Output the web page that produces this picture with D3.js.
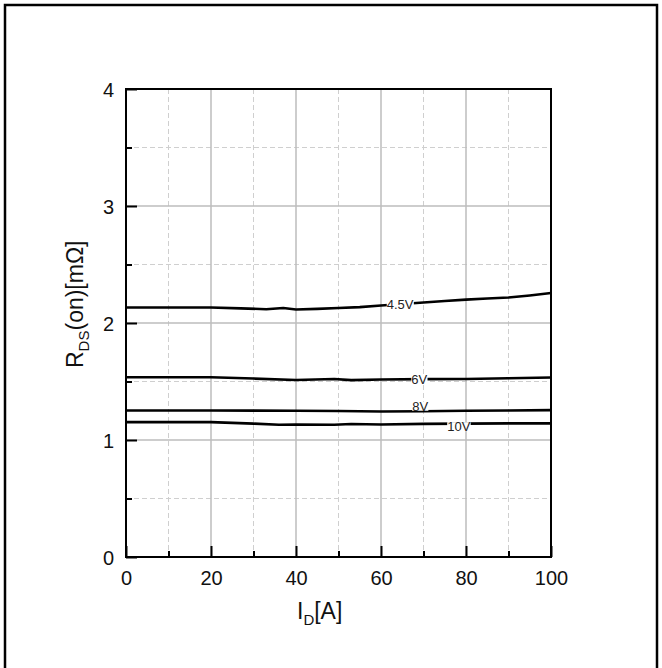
<!DOCTYPE html>
<html>
<head>
<meta charset="utf-8">
<script src="https://cdn.jsdelivr.net/npm/d3@7"></script>
<style>
  html, body { margin: 0; padding: 0; background: #fff; }
  svg { display: block; }
  text { font-family: Arial, "Liberation Sans", sans-serif; fill: #111; }
</style>
</head>
<body>
<script>
// R_DS(on) versus drain current for four gate voltages
const gateLabels = ["4.5V", "6V", "8V", "10V"];
const current45 = [0, 10, 20, 27, 33, 37, 40, 45, 50, 55, 60, 65, 70, 75, 80, 85, 90, 95, 100];
const rds45     = [2.133, 2.133, 2.133, 2.125, 2.118, 2.128, 2.116, 2.121, 2.128, 2.136, 2.15, 2.162, 2.175, 2.188, 2.2, 2.21, 2.218, 2.235, 2.256];
const current6  = [0, 20, 30, 40, 49, 53, 60, 70, 80, 90, 100];
const rds6      = [1.536, 1.536, 1.525, 1.513, 1.521, 1.512, 1.517, 1.52, 1.522, 1.528, 1.534];
const current8  = [0, 20, 40, 50, 60, 70, 80, 90, 100];
const rds8      = [1.252, 1.252, 1.25, 1.248, 1.243, 1.246, 1.25, 1.252, 1.255];
const current10 = [0, 20, 30, 36, 40, 49, 53, 60, 70, 80, 90, 100];
const rds10     = [1.153, 1.153, 1.14, 1.13, 1.133, 1.13, 1.137, 1.133, 1.138, 1.14, 1.142, 1.142];
// where each curve carries its label (x in A)
const labelAt = [64.5, 69, 69.2, 78.3];

const xTicks = [0, 20, 40, 60, 80, 100];
const xMinor = [10, 30, 50, 70, 90];
const yTicks = [0, 1, 2, 3, 4];
const yMinor = [0.5, 1.5, 2.5, 3.5];

const W = 662, H = 668;
const L = 126, R = 551, T = 89, B = 557;

const svg = d3.select("body").append("svg").attr("width", W).attr("height", H);

// outer frame
svg.append("rect").attr("x", 5).attr("y", 5).attr("width", 652).attr("height", 680)
  .attr("fill", "none").attr("stroke", "#000").attr("stroke-width", 2.5);

const x = d3.scaleLinear().domain([0, 100]).range([L, R]);
const y = d3.scaleLinear().domain([0, 4]).range([B, T]);

// grid
const grid = svg.append("g");
grid.selectAll(".vmin").data(xMinor).join("line")
  .attr("x1", d => x(d)).attr("x2", d => x(d)).attr("y1", T).attr("y2", B)
  .attr("stroke", "#cfcfcf").attr("stroke-width", 1).attr("stroke-dasharray", "5,3");
grid.selectAll(".hmin").data(yMinor).join("line")
  .attr("y1", d => y(d)).attr("y2", d => y(d)).attr("x1", L).attr("x2", R)
  .attr("stroke", "#cfcfcf").attr("stroke-width", 1).attr("stroke-dasharray", "5,3");
grid.selectAll(".vmaj").data(xTicks.filter(d => d > 0 && d < 100)).join("line")
  .attr("x1", d => x(d)).attr("x2", d => x(d)).attr("y1", T).attr("y2", B)
  .attr("stroke", "#bdbdbd").attr("stroke-width", 1.5);
grid.selectAll(".hmaj").data(yTicks.filter(d => d > 0 && d < 4)).join("line")
  .attr("y1", d => y(d)).attr("y2", d => y(d)).attr("x1", L).attr("x2", R)
  .attr("stroke", "#bdbdbd").attr("stroke-width", 1.5);

// curves
const series = [
  { xs: current45, ys: rds45 },
  { xs: current6,  ys: rds6 },
  { xs: current8,  ys: rds8 },
  { xs: current10, ys: rds10 }
];
const line = d3.line().x(d => x(d[0])).y(d => y(d[1]));
series.forEach(s => {
  svg.append("path").datum(d3.zip(s.xs, s.ys)).attr("d", line)
    .attr("fill", "none").attr("stroke", "#000").attr("stroke-width", 2.6)
    .attr("stroke-linejoin", "round");
});

// inline labels
const labelDy = [0, 0, -5, 3];
series.forEach((s, i) => {
  const lx = labelAt[i];
  const ly = d3.scaleLinear().domain(s.xs).range(s.ys)(lx);
  const g = svg.append("g").attr("transform", `translate(${x(lx)},${y(ly) + labelDy[i]})`);
  const t = g.append("text").attr("text-anchor", "middle").attr("dy", "0.36em")
    .attr("font-size", 13).style("fill", "#222").text(gateLabels[i]);
  const bb = t.node().getBBox();
  g.insert("rect", "text").attr("x", bb.x).attr("y", -4.5)
    .attr("width", bb.width).attr("height", 9).attr("fill", "#fff");
});

// axes: ticks pointing inward
const xAxis = svg.append("g").attr("transform", `translate(0,${B})`)
  .call(d3.axisBottom(x).tickValues(xTicks).tickSize(-11).tickFormat(d3.format("d")));
svg.append("g").attr("transform", `translate(0,${B})`)
  .call(d3.axisBottom(x).tickValues(xMinor).tickSize(-6).tickFormat(""))
  .call(g => g.select(".domain").remove());
const yAxis = svg.append("g").attr("transform", `translate(${L},0)`)
  .call(d3.axisLeft(y).tickValues(yTicks).tickSize(-11).tickFormat(d3.format("d")));
svg.append("g").attr("transform", `translate(${L},0)`)
  .call(d3.axisLeft(y).tickValues(yMinor).tickSize(-6).tickFormat(""))
  .call(g => g.select(".domain").remove());

[xAxis, yAxis].forEach(a => {
  a.selectAll("text").attr("font-size", 20).attr("fill", "#111");
  a.select(".domain").remove();
});
svg.selectAll(".tick line").attr("stroke", "#000").attr("stroke-width", 2);
xAxis.selectAll("text").attr("dy", "0.71em").attr("y", 14);
yAxis.selectAll("text").attr("x", -12).attr("dy", "0.35em");

// plot box
svg.append("rect").attr("x", L).attr("y", T).attr("width", R - L).attr("height", B - T)
  .attr("fill", "none").attr("stroke", "#000").attr("stroke-width", 2);

// axis titles
const xt = svg.append("text").attr("x", 297).attr("y", 619).attr("font-size", 23);
xt.append("tspan").text("I");
xt.append("tspan").attr("font-size", 15).attr("dy", 6).text("D");
xt.append("tspan").attr("dy", -6).text("[A]");

const yt = svg.append("text").attr("transform", "translate(83,368) rotate(-90)").attr("font-size", 23);
yt.append("tspan").text("R");
yt.append("tspan").attr("font-size", 15).attr("dy", 6).text("DS");
yt.append("tspan").attr("dy", -6).text("(on)[mΩ]");
</script>
</body>
</html>
